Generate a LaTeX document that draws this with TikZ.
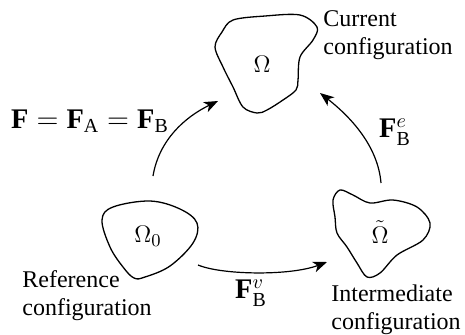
\documentclass[tikz,border=0pt]{standalone}
\usepackage{fontspec}
\setmainfont{Liberation Serif}
\usetikzlibrary{arrows.meta}

\begin{document}
\begin{tikzpicture}[x=0.5pt,y=-0.5pt,
  region/.style={line width=0.65pt},
  map/.style={line width=0.6pt,-{Stealth[length=7pt,width=5.5pt,inset=2pt]}},
  caption/.style={align=left,anchor=north west,inner sep=0pt,font=\rmfamily\fontsize{12}{14}\selectfont},
  label/.style={inner sep=0pt,font=\fontsize{13}{15}\selectfont},
  maplabel/.style={inner sep=0pt,font=\fontsize{14.2}{16}\selectfont}]
\useasboundingbox (0,0) rectangle (465,334);

% the three configurations
\draw[region] plot[smooth cycle,tension=0.55] coordinates {(222,32) (233,20) (265,16) (300,15) (317,27) (313,40) (300,57) (298,80) (296,90) (283,100) (267,110) (257,113) (243,107) (233,87) (223,67) (215,47)};
\draw[region] plot[smooth cycle,tension=0.6] coordinates {(150,201) (180,209) (197,223) (193,243) (170,266) (145,277) (134,278) (123,267) (110,247) (102,220) (113,207)};
\draw[region] plot[smooth cycle,tension=0.55] coordinates {(340,190) (353,195) (370,203) (393,200) (417,207) (430,223) (423,240) (397,255) (380,273) (367,277) (357,263) (347,247) (337,233) (335,217) (333,200)};

\node[label] (cur) at (262,64) {$\Omega$};
\node[label] (ref) at (148,236) {$\Omega_0$};
\node[label] (mid) at (380,232) {$\tilde{\Omega}$};

\node[caption] (curtext) at (323,10) {Current\\configuration};
\node[caption] (reftext) at (22,270) {Reference\\configuration};
\node[caption] (midtext) at (331,284) {Intermediate\\configuration};

% maps between them
\coordinate (refup) at (153,176);
\coordinate (curleft) at (218,101);
\coordinate (midup) at (381,183);
\coordinate (curright) at (320,93);
\coordinate (refright) at (198,265);
\coordinate (midleft) at (327,262);

\draw[map] (refup) .. controls (159,140) and (185,117) .. (curleft);
\draw[map] (midup) .. controls (378,147) and (352,118) .. (curright);
\draw[map] (refright) .. controls (222,275) and (290,276) .. (midleft);

\node[maplabel] (Ftot) at (90,121) {$\mathbf{F}=\mathbf{F}_{\mathrm{A}}=\mathbf{F}_{\mathrm{B}}$};
\node[maplabel] (Fe) at (395,132) {$\mathbf{F}^e_{\mathrm{B}}$};
\node[maplabel] (Fv) at (251,293) {$\mathbf{F}^v_{\mathrm{B}}$};
\end{tikzpicture}
\end{document}
